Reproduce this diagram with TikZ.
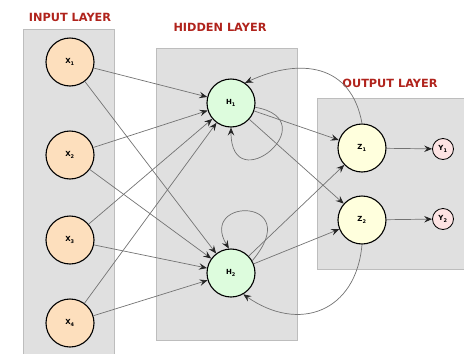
\documentclass[tikz,border=0pt]{standalone}
\usepackage{fontspec}
\setsansfont{DejaVu Sans}
\usepackage{tikz}
\usetikzlibrary{shapes,arrows,arrows.meta}
\definecolor{boxgray}{HTML}{E0E0E0}
\definecolor{boxline}{HTML}{BDBDBD}
\definecolor{titlered}{HTML}{B0231C}
\definecolor{inputfill}{HTML}{FDDFBD}
\definecolor{hiddenfill}{HTML}{DDFCDD}
\definecolor{outfill}{HTML}{FFFFDD}
\definecolor{yfill}{HTML}{FDE3E3}
\tikzstyle{layer} = [draw=boxline, fill=boxgray, line width=0.8pt]
\tikzstyle{title} = [text=titlered, font=\sffamily\bfseries\fontsize{11.3}{12}\selectfont]
\tikzstyle{neuron} = [circle, draw=black, line width=1.1pt, minimum size=48pt, inner sep=0pt, font=\sffamily\bfseries\fontsize{7}{8}\selectfont]
\tikzstyle{line} = [draw=black!55, line width=0.7pt, -{Stealth[length=8pt,width=6.5pt,inset=3pt,color=black!85]}]

\begin{document}
\begin{tikzpicture}[x=1pt,y=-1pt]
      \useasboundingbox (0,0) rectangle (464,354);

      % layer boxes
      \fill[layer] (23,29) rectangle (114,356);
      \fill[layer] (156,48) rectangle (297,340);
      \fill[layer] (317,98) rectangle (466,269);

      % titles
      \node[title] (tin) at (70,17) {INPUT LAYER};
      \node[title] (thid) at (220,27) {HIDDEN LAYER};
      \node[title] (tout) at (390,83) {OUTPUT LAYER};

      % input neurons
      \node[neuron, fill=inputfill] (x1) at (70,62) {X\textsubscript{1}};
      \node[neuron, fill=inputfill] (x2) at (70,155) {X\textsubscript{2}};
      \node[neuron, fill=inputfill] (x3) at (70,240) {X\textsubscript{3}};
      \node[neuron, fill=inputfill] (x4) at (70,323) {X\textsubscript{4}};

      % hidden neurons
      \node[neuron, fill=hiddenfill] (h1) at (231,103) {H\textsubscript{1}};
      \node[neuron, fill=hiddenfill] (h2) at (231,273) {H\textsubscript{2}};

      % output neurons
      \node[neuron, fill=outfill] (z1) at (362,148) {Z\textsubscript{1}};
      \node[neuron, fill=outfill] (z2) at (362,220) {Z\textsubscript{2}};
      \node[neuron, fill=yfill, minimum size=21pt, line width=0.8pt] (y1) at (443,149) {Y\textsubscript{1}};
      \node[neuron, fill=yfill, minimum size=21pt, line width=0.8pt] (y2) at (443,219) {Y\textsubscript{2}};

      % input to hidden
      \foreach \i in {1,...,4} {
        \draw[line] (x\i) -- (h1);
        \draw[line] (x\i) -- (h2);
      }

      % hidden to output
      \draw[line] (h1) -- (z1);
      \draw[line] (h1) -- (z2);
      \draw[line] (h2) -- (z1);
      \draw[line] (h2) -- (z2);
      \draw[line] (z1) -- (y1);
      \draw[line] (z2) -- (y2);

      % self loops
      \draw[line] (h1.-10) to[out=-10, in=-90, looseness=6] (h1.-90);
      \draw[line] (h2.30) .. controls (306,197) and (198,197) .. (h2.95);

      % feedback
      \draw[line] (z1.north) to[out=100, in=25, looseness=1.25] (h1.55);
      \draw[line] (z2.south) to[out=-95, in=-35, looseness=1.35] (h2.-60);
\end{tikzpicture}
\end{document}
